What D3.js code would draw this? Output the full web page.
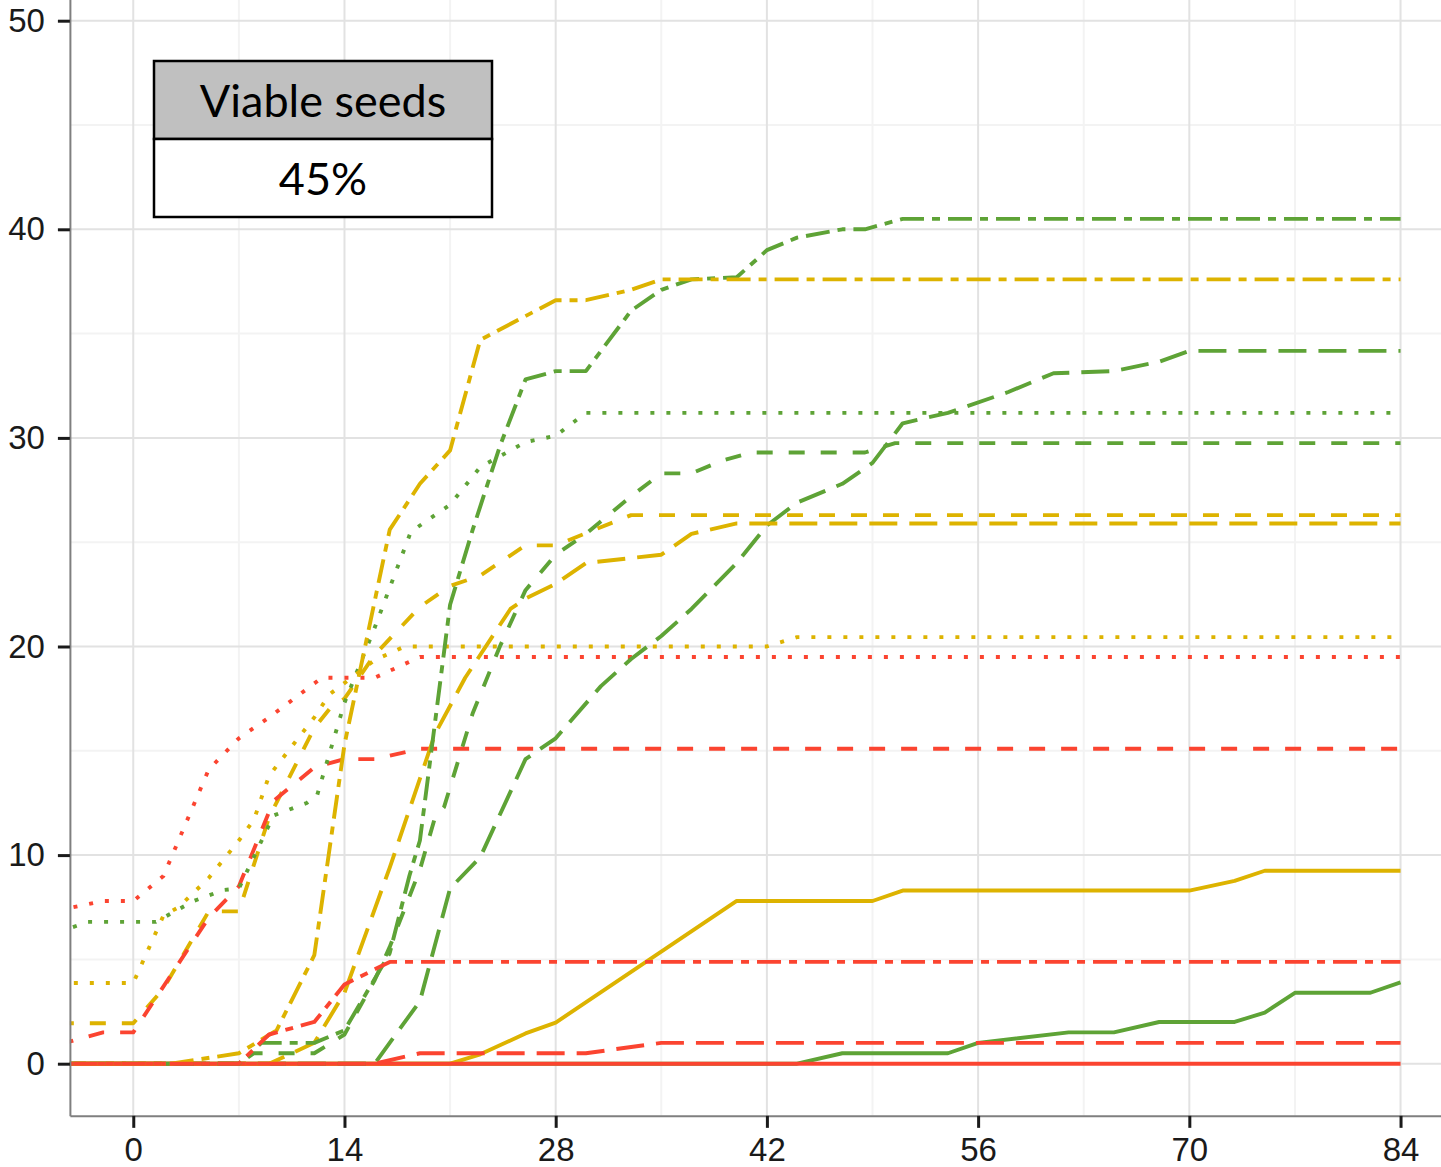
<!DOCTYPE html>
<html lang="en">

<head>
    <meta charset="UTF-8">
    <title>Viable seeds</title>
    <style>
        html,
        body {
            margin: 0;
            padding: 0;
            background: #fff;
        }

        svg {
            display: block;
        }

        .axis text {
            font-family: "Liberation Sans", Arial, sans-serif;
            font-size: 33px;
            fill: #1a1a1a;
        }

        .box text {
            font-family: Lato, "Open Sans", sans-serif;
            font-size: 45px;
            fill: #000;
        }
    </style>
</head>

<body>
    <svg></svg>
    <script src="https://cdn.jsdelivr.net/npm/d3@7.8.5/dist/d3.min.js"></script>
    <script>
        // x: days, y: cumulative germination (%)
        const xTicks = [0, 14, 28, 42, 56, 70, 84]
        const xMinor = [7, 21, 35, 49, 63, 77]
        const yTicks = [0, 10, 20, 30, 40, 50]
        const yMinor = [5, 15, 25, 35, 45]
        const boxTitle = 'Viable seeds'
        const boxValue = '45%'

        // [day, value] pairs
        const redSolid = [[-5, 0], [84, 0]]
        const redDashed = [[-5, 0.9], [-2, 1.5], [0, 1.5], [5, 7.0], [7, 8.5], [9.3, 12.6], [12, 14.2], [14, 14.6], [16, 14.6], [19, 15.1], [84, 15.1]]
        const redDotted = [[-5, 7.35], [-2, 7.8], [0, 7.8], [2, 9.0], [5, 14.1], [7, 15.6], [9, 16.6], [12.5, 18.5], [16, 18.5], [19, 19.5], [84, 19.5]]
        const redLongdash = [[-5, 0], [16, 0], [19, 0.5], [30, 0.5], [35, 1.0], [84, 1.0]]
        const redTwodash = [[-5, 0], [7, 0], [9, 1.4], [12, 2.0], [14, 3.8], [17, 4.88], [84, 4.88]]

        const yellowSolid = [[-5, 0], [21, 0], [23, 0.45], [26, 1.45], [28, 1.97], [40, 7.8], [49, 7.8], [51, 8.3], [70, 8.3], [73, 8.76], [75, 9.25], [84, 9.25]]
        const yellowDashed = [[-5, 1.94], [0, 1.94], [2, 3.6], [5, 7.3], [7, 7.3], [9, 11.8], [12, 16.1], [13, 17.0], [14, 17.5], [16, 19.6], [19, 21.9], [21, 22.9], [23, 23.4], [26, 24.85], [28, 24.85], [33, 26.3], [84, 26.3]]
        const yellowDotted = [[-5, 3.87], [0, 3.87], [2, 7.1], [3, 7.5], [5, 8.9], [7, 10.7], [8, 11.7], [9, 13.8], [12, 16.6], [13, 17.7], [16, 19.35], [18, 20.0], [42, 20.0], [44, 20.45], [84, 20.45]]
        const yellowLongdash = [[-5, 0], [9, 0], [12, 1.0], [14, 3.4], [17, 9.4], [20, 15.8], [22, 18.5], [25, 21.8], [26, 22.3], [28, 23.0], [30, 24.0], [35, 24.4], [37, 25.4], [40, 25.9], [84, 25.9]]
        const yellowTwodash = [[-5, 0], [2.5, 0], [7, 0.5], [9.5, 1.6], [12, 5.2], [14, 15.3], [17, 25.6], [19, 27.8], [21, 29.4], [23, 34.7], [28, 36.6], [30, 36.6], [33, 37.1], [35, 37.6], [84, 37.6]]

        const greenSolid = [[-5, 0], [44, 0], [47, 0.5], [54, 0.5], [56, 1.0], [62, 1.5], [65, 1.5], [68, 2.0], [73, 2.0], [75, 2.45], [77, 3.4], [82, 3.4], [84, 3.9]]
        const greenDashed = [[-5, 0], [7, 0], [8, 0.5], [12, 0.5], [14, 1.4], [16, 4.0], [17, 5.6], [19, 9.3], [20, 11.8], [20.6, 12.3], [22.5, 16.8], [24.3, 20.0], [26, 22.7], [28, 24.4], [30, 25.4], [33, 27.2], [35, 28.3], [37, 28.3], [39, 28.9], [41, 29.3], [48.5, 29.3], [50.5, 29.75], [84, 29.75]]
        const greenDotted = [[-5, 6.3], [-3, 6.8], [1.5, 6.8], [4, 7.8], [6, 8.33], [7, 8.4], [9.3, 11.9], [11.5, 12.5], [12.2, 12.9], [14, 17.3], [16, 20.9], [18.4, 25.5], [21, 26.8], [23, 28.6], [26, 29.8], [28, 30.1], [30, 31.2], [84, 31.2]]
        const greenLongdash = [[-5, 0], [16, 0], [19, 3.0], [21, 8.4], [23, 9.9], [26, 14.6], [28, 15.6], [31, 18.1], [33, 19.4], [35, 20.5], [37, 21.8], [40, 24.0], [42, 25.8], [44, 26.9], [47, 27.8], [49, 28.8], [51, 30.7], [54, 31.2], [58, 32.2], [61, 33.1], [65, 33.2], [68, 33.65], [70, 34.17], [84, 34.17]]
        const greenTwodash = [[-5, 0], [7, 0], [8.5, 1.0], [12, 1.0], [14, 1.6], [17, 5.3], [18.3, 9.0], [19, 10.7], [21, 22.0], [22.5, 25.6], [24.3, 29.6], [26, 32.8], [28, 33.2], [30, 33.2], [33, 36.1], [35, 37.1], [37, 37.6], [40, 37.7], [42, 39.0], [44, 39.6], [47, 40.0], [48.5, 40.0], [51, 40.5], [84, 40.5]]

        // drawing order: solid first, then the broken line types
        const series = [
            { col: 'green', type: 'solid', pts: greenSolid },
            { col: 'yellow', type: 'solid', pts: yellowSolid },
            { col: 'red', type: 'solid', pts: redSolid },
            { col: 'green', type: 'dashed', pts: greenDashed },
            { col: 'yellow', type: 'dashed', pts: yellowDashed },
            { col: 'red', type: 'dashed', pts: redDashed },
            { col: 'green', type: 'dotted', pts: greenDotted },
            { col: 'yellow', type: 'dotted', pts: yellowDotted },
            { col: 'red', type: 'dotted', pts: redDotted },
            { col: 'green', type: 'longdash', pts: greenLongdash },
            { col: 'yellow', type: 'longdash', pts: yellowLongdash },
            { col: 'red', type: 'longdash', pts: redLongdash },
            { col: 'green', type: 'twodash', pts: greenTwodash },
            { col: 'yellow', type: 'twodash', pts: yellowTwodash },
            { col: 'red', type: 'twodash', pts: redTwodash }
        ]

        const colours = { red: '#fb4430', yellow: '#ddb300', green: '#5ea336' }
        const dashes = {
            solid: null,
            dashed: '16,16',
            dotted: '4,12',
            longdash: '28,12',
            twodash: '8,8,24,8'
        }

        const width = 1441
        const height = 1167

        const svg = d3.select('svg')
            .attr('width', width)
            .attr('height', height)

        // panel is wider/taller than the window, it is cropped like the reference
        const x = d3.scaleLinear().domain([-4.2, 88.2]).range([69.9, 1463.9])
        const y = d3.scaleLinear().domain([-2.5, 52.5]).range([1115.85, -31.45])

        const [px0, px1] = x.range()
        const [py0, py1] = y.range()

        svg.append('defs').append('clipPath')
            .attr('id', 'panel')
            .append('rect')
            .attr('x', px0)
            .attr('y', py1)
            .attr('width', px1 - px0)
            .attr('height', py0 - py1)

        const grid = svg.append('g')

        grid.selectAll('.vminor')
            .data(xMinor)
            .join('line')
            .attr('x1', d => x(d)).attr('x2', d => x(d))
            .attr('y1', py0).attr('y2', py1)
            .attr('stroke', '#f3f3f3')
            .attr('stroke-width', 2)

        grid.selectAll('.hminor')
            .data(yMinor)
            .join('line')
            .attr('x1', px0).attr('x2', px1)
            .attr('y1', d => y(d)).attr('y2', d => y(d))
            .attr('stroke', '#f3f3f3')
            .attr('stroke-width', 2)

        grid.selectAll('.vmajor')
            .data(xTicks)
            .join('line')
            .attr('x1', d => x(d)).attr('x2', d => x(d))
            .attr('y1', py0).attr('y2', py1)
            .attr('stroke', '#e2e2e2')
            .attr('stroke-width', 2)

        grid.selectAll('.hmajor')
            .data(yTicks)
            .join('line')
            .attr('x1', px0).attr('x2', px1)
            .attr('y1', d => y(d)).attr('y2', d => y(d))
            .attr('stroke', '#e2e2e2')
            .attr('stroke-width', 2)

        const line = d3.line()
            .x(d => x(d[0]))
            .y(d => y(d[1]))

        svg.append('g')
            .attr('clip-path', 'url(#panel)')
            .selectAll('path')
            .data(series)
            .join('path')
            .attr('d', d => line(d.pts))
            .attr('fill', 'none')
            .attr('stroke', d => colours[d.col])
            .attr('stroke-width', 3.9)
            .attr('stroke-linejoin', 'round')
            .attr('stroke-linecap', 'butt')
            .attr('stroke-dasharray', d => dashes[d.type])

        // axes
        svg.append('g')
            .attr('class', 'axis')
            .attr('transform', `translate(0,${py0})`)
            .call(d3.axisBottom(x).tickValues(xTicks).tickSize(12).tickSizeOuter(0).tickPadding(10))

        svg.append('g')
            .attr('class', 'axis')
            .attr('transform', `translate(${px0},0)`)
            .call(d3.axisLeft(y).tickValues(yTicks).tickSize(12).tickSizeOuter(0).tickPadding(13))

        svg.selectAll('.axis .domain')
            .attr('stroke', '#7f7f7f')
            .attr('stroke-width', 2)

        svg.selectAll('.axis .tick line')
            .attr('stroke', '#1a1a1a')
            .attr('stroke-width', 3)

        // label box in the top-left corner
        const box = svg.append('g').attr('class', 'box')
        const bx = 154, by = 61, bw = 338, bh = 78

        box.append('rect')
            .attr('x', bx).attr('y', by)
            .attr('width', bw).attr('height', bh)
            .attr('fill', '#c0c0c0')
            .attr('stroke', '#000')
            .attr('stroke-width', 2.5)

        box.append('rect')
            .attr('x', bx).attr('y', by + bh)
            .attr('width', bw).attr('height', bh)
            .attr('fill', '#fff')
            .attr('stroke', '#000')
            .attr('stroke-width', 2.5)

        box.append('text')
            .attr('x', bx + bw / 2)
            .attr('y', by + 56)
            .attr('text-anchor', 'middle')
            .text(boxTitle)

        box.append('text')
            .attr('x', bx + bw / 2)
            .attr('y', by + bh + 56)
            .attr('text-anchor', 'middle')
            .text(boxValue)
    </script>
</body>

</html>
